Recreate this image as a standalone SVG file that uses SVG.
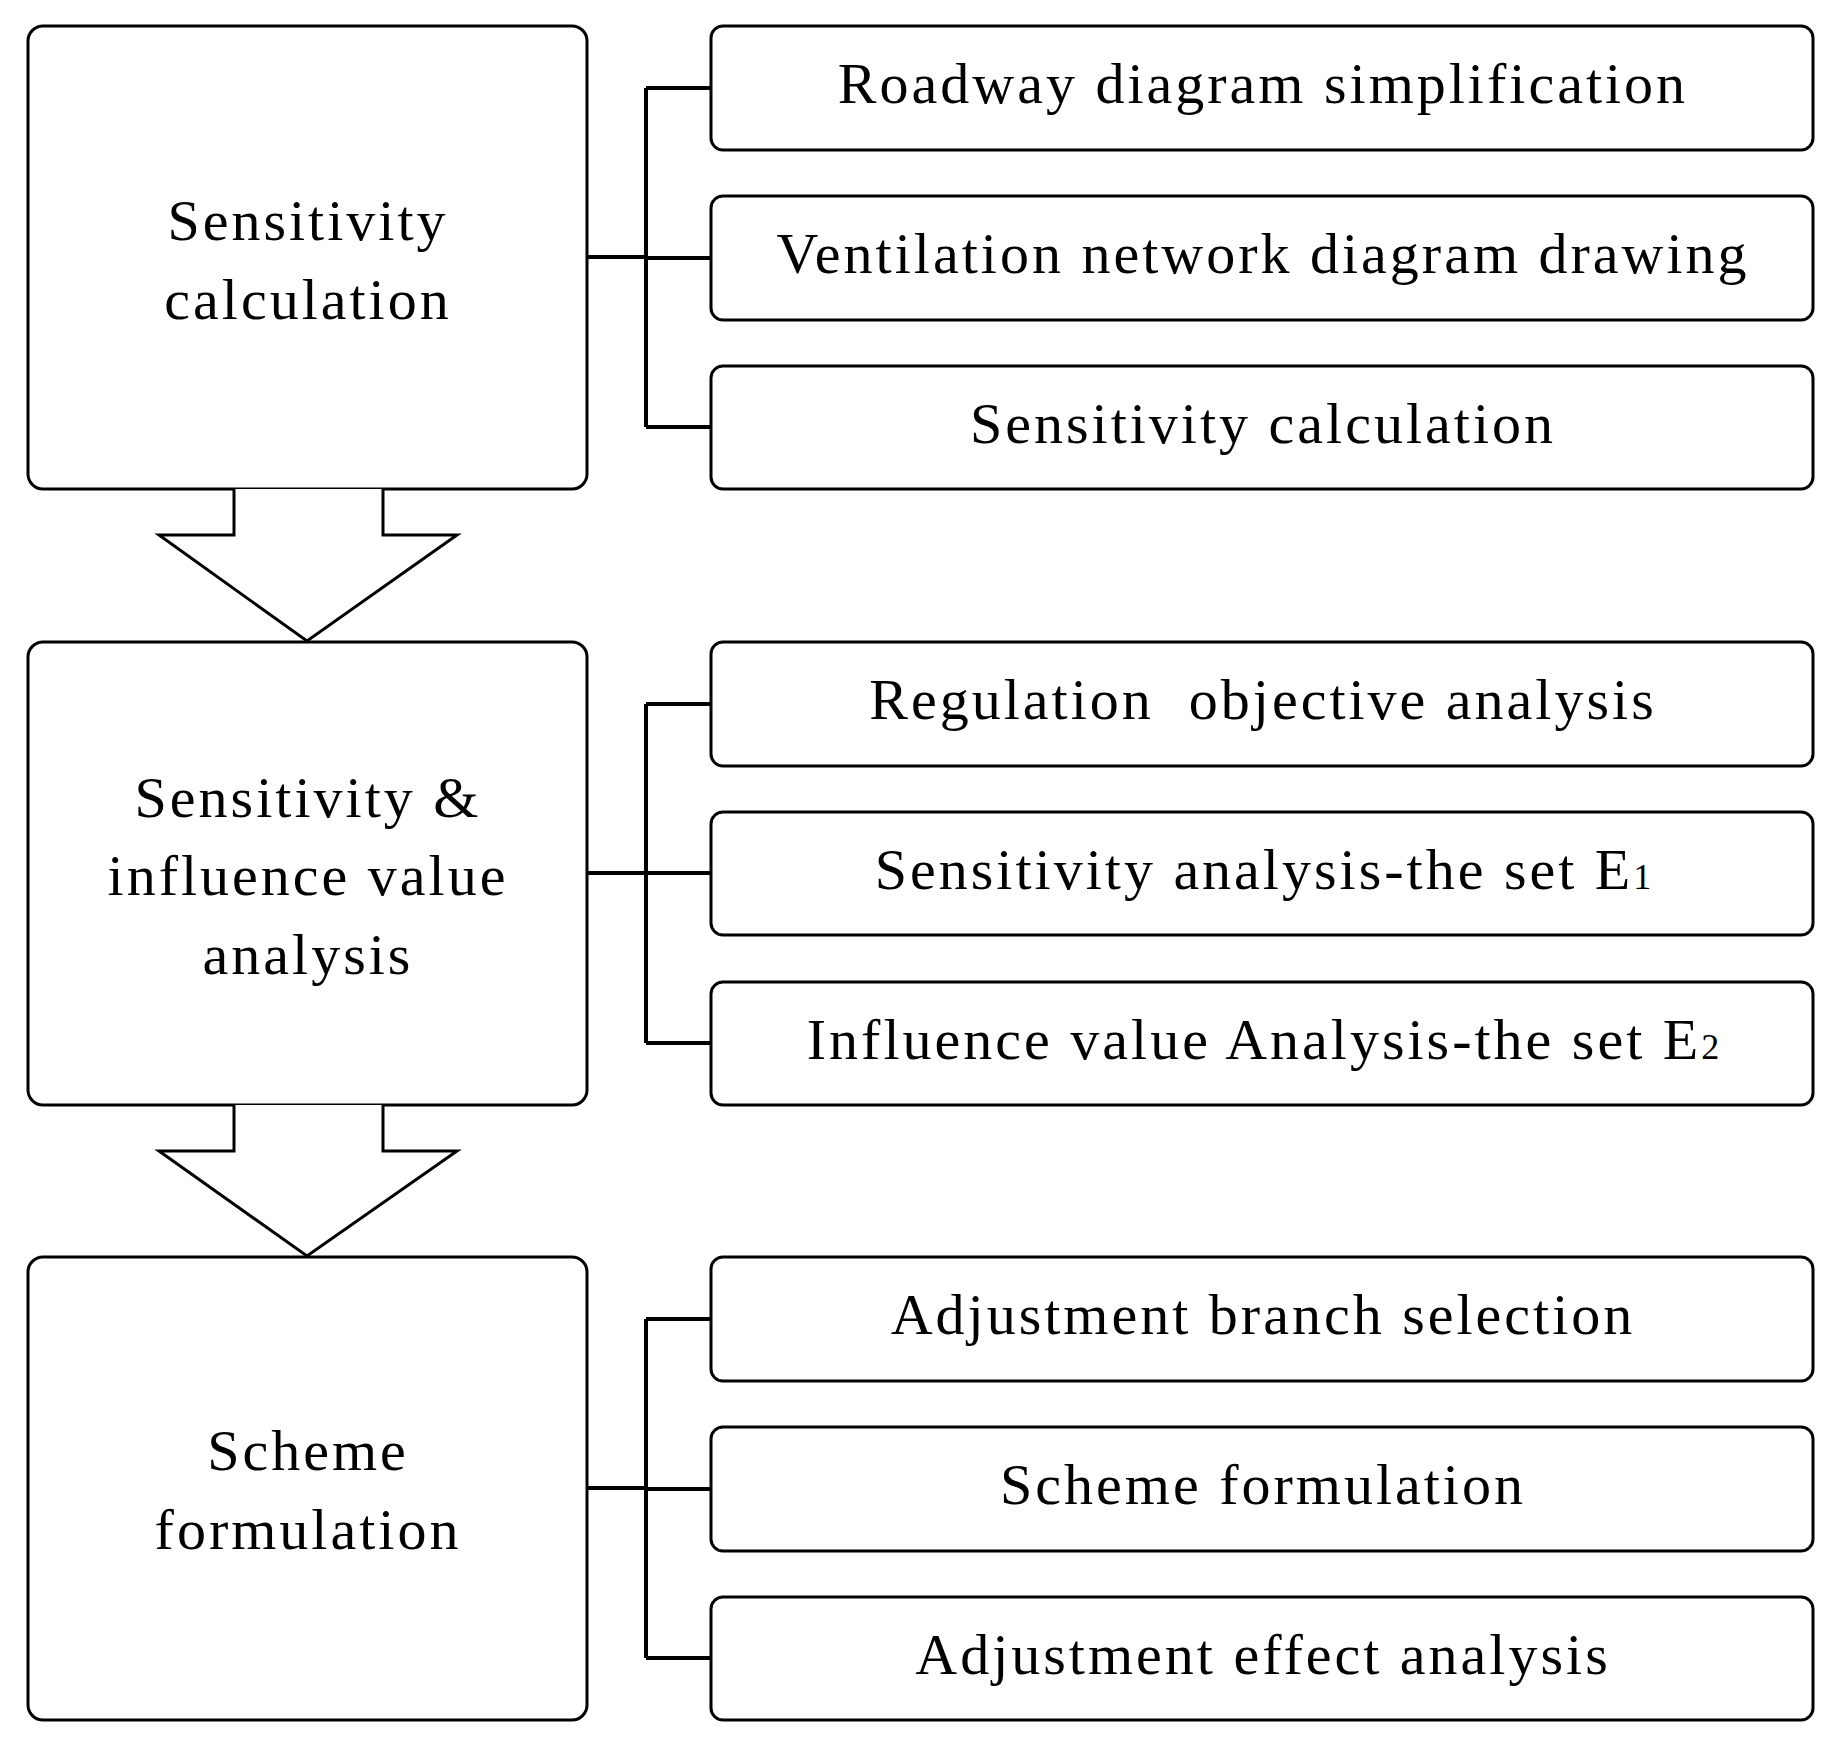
<svg xmlns="http://www.w3.org/2000/svg" width="1837" height="1744" viewBox="0 0 1837 1744">
<style>
.b{fill:#fff;stroke:#000;stroke-width:3}
.t{font-family:"Liberation Serif",serif;font-size:58px;letter-spacing:3px;text-anchor:middle;fill:#000}
.c{fill:none;stroke:#000;stroke-width:4}
.s{font-size:36px;letter-spacing:0}
</style>
<rect width="1837" height="1744" fill="#fff"/>
<g id="n1"><rect class="b" x="28" y="26" width="559" height="463" rx="15"/><text class="t" x="308" y="240">Sensitivity</text><text class="t" x="308" y="319">calculation</text></g>
<g id="n2"><rect class="b" x="28" y="642" width="559" height="463" rx="15"/><text class="t" x="308" y="817">Sensitivity &amp;</text><text class="t" x="308" y="895">influence value</text><text class="t" x="308" y="974">analysis</text></g>
<g id="n3"><rect class="b" x="28" y="1257" width="559" height="463" rx="15"/><text class="t" x="308" y="1470">Scheme</text><text class="t" x="308" y="1549">formulation</text></g>
<g id="r1"><rect class="b" x="711" y="26" width="1102" height="124" rx="12"/><text class="t" x="1263" y="103">Roadway diagram simplification</text></g>
<g id="r2"><rect class="b" x="711" y="196" width="1102" height="124" rx="12"/><text class="t" x="1263" y="273">Ventilation network diagram drawing</text></g>
<g id="r3"><rect class="b" x="711" y="366" width="1102" height="123" rx="12"/><text class="t" x="1263" y="443">Sensitivity calculation</text></g>
<g id="r4"><rect class="b" x="711" y="642" width="1102" height="124" rx="12"/><text class="t" x="1263" y="719" xml:space="preserve">Regulation  objective analysis</text></g>
<g id="r5"><rect class="b" x="711" y="812" width="1102" height="123" rx="12"/><text class="t" x="1263" y="889">Sensitivity analysis-the set E<tspan class="s">1</tspan></text></g>
<g id="r6"><rect class="b" x="711" y="982" width="1102" height="123" rx="12"/><text class="t" x="1263" y="1059">Influence value Analysis-the set E<tspan class="s">2</tspan></text></g>
<g id="r7"><rect class="b" x="711" y="1257" width="1102" height="124" rx="12"/><text class="t" x="1263" y="1334">Adjustment branch selection</text></g>
<g id="r8"><rect class="b" x="711" y="1427" width="1102" height="124" rx="12"/><text class="t" x="1263" y="1504">Scheme formulation</text></g>
<g id="r9"><rect class="b" x="711" y="1597" width="1102" height="123" rx="12"/><text class="t" x="1263" y="1674">Adjustment effect analysis</text></g>
<g id="connectors">
<path class="c" d="M587 257H646M646 88V427M646 88H711M646 258H711M646 427H711"/>
<path class="c" d="M587 873H646M646 704V1043M646 704H711M646 873H711M646 1043H711"/>
<path class="c" d="M587 1488H646M646 1319V1658M646 1319H711M646 1489H711M646 1658H711"/>
<path class="b" d="M234 489V535H159L307 641L457 535H383V489"/>
<path class="b" d="M234 1105V1151H159L307 1256L457 1151H383V1105"/>
</g>
</svg>
